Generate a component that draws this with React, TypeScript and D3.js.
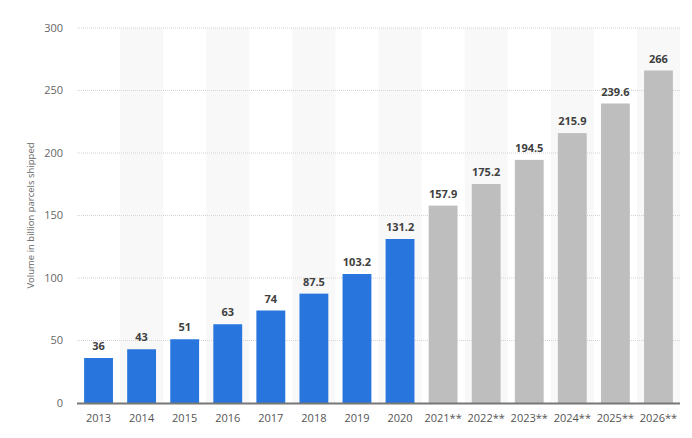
import React from "react";
import * as d3 from "d3";

const categories = ["2013","2014","2015","2016","2017","2018","2019","2020","2021**","2022**","2023**","2024**","2025**","2026**"];
const values = [36,43,51,63,74,87.5,103.2,131.2,157.9,175.2,194.5,215.9,239.6,266];
const valueLabels = ["36","43","51","63","74","87.5","103.2","131.2","157.9","175.2","194.5","215.9","239.6","266"];
const forecast = [false,false,false,false,false,false,false,false,true,true,true,true,true,true];
const yTicks = [0,50,100,150,200,250,300];
const yTitle = "Volume in billion parcels shipped";

const W = 692, H = 438;
const left = 77, right = 680, top = 28, bottom = 403;
const FONT = "'Open Sans', 'Noto Sans', sans-serif";

export default function App() {
  const x = d3.scaleBand<string>().domain(categories).range([left, right]).paddingInner(0.33).paddingOuter(0.165);
  const band = d3.scaleBand<string>().domain(categories).range([left, right]).padding(0);
  const y = d3.scaleLinear().domain([0, 300]).range([bottom, top]);
  return (
    <svg width={W} height={H} style={{ position: "absolute", left: 0, top: 0, background: "#fff" }}>
      {categories.map((c, i) => i % 2 === 1 ? (
        <rect key={"s" + c} x={band(c)} y={top} width={band.bandwidth()} height={bottom - top} fill="#f8f8f8" />
      ) : null)}
      {yTicks.map(t => (
        <g key={"t" + t}>
          {t > 0 && <line x1={left} x2={right} y1={y(t)} y2={y(t)} stroke="#d4d4d4" strokeWidth={1} strokeDasharray="1,1" />}
          <text x={63} y={y(t)} dy="0.35em" textAnchor="end" fontFamily={FONT} fontSize={11} fill="#666">{t}</text>
        </g>
      ))}
      {categories.map((c, i) => (
        <g key={"b" + c}>
          <rect x={x(c)} y={y(values[i])} width={x.bandwidth()} height={bottom - y(values[i])} fill={forecast[i] ? "#bebebe" : "#2875dd"} />
          <text x={x(c)! + x.bandwidth() / 2} y={y(values[i]) - 8} textAnchor="middle" fontFamily={FONT} fontSize={11} fontWeight="bold" fill="#404040">{valueLabels[i]}</text>
          <text x={band(c)! + band.bandwidth() / 2} y={422} textAnchor="middle" fontFamily={FONT} fontSize={11} fill="#555">{c}</text>
        </g>
      ))}
      <line x1={left} x2={right} y1={bottom + 0.5} y2={bottom + 0.5} stroke="#777" strokeWidth={2} />
      <text transform={`translate(34,${(top + bottom) / 2}) rotate(-90)`} textAnchor="middle" fontFamily={FONT} fontSize={9.5} fill="#666">{yTitle}</text>
    </svg>
  );
}
